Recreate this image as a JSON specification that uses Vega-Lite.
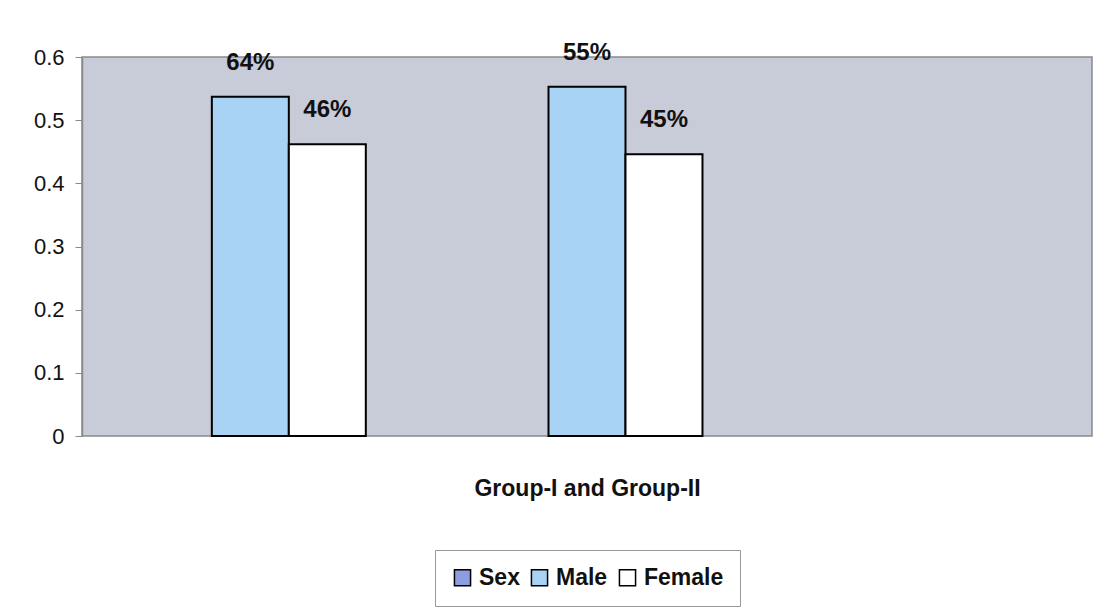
{
  "$schema": "https://vega.github.io/schema/vega-lite/v6.json",
  "width": 1109,
  "height": 616,
  "autosize": {"type": "fit", "contains": "padding"},
  "padding": {"left": 33, "right": 17, "top": 46, "bottom": 9},
  "background": "white",
  "view": {"fill": "#c8cbd8", "stroke": "#8a8a8a", "strokeWidth": 1.5},
  "config": {"legend": {"layout": {"bottom": {"anchor": "middle"}}}},
  "data": {
    "values": [
      {"group": "Group-I", "sex": "Male", "value": 0.537, "label": "64%"},
      {"group": "Group-I", "sex": "Female", "value": 0.462, "label": "46%"},
      {"group": "Group-II", "sex": "Male", "value": 0.553, "label": "55%"},
      {"group": "Group-II", "sex": "Female", "value": 0.446, "label": "45%"}
    ]
  },
  "encoding": {
    "x": {
      "field": "group",
      "type": "nominal",
      "scale": {"domain": ["Group-I", "Group-II", "Group-III"], "paddingInner": 0.314, "paddingOuter": 0.157},
      "axis": {
        "labels": false,
        "ticks": false,
        "domain": false,
        "title": "Group-I and Group-II",
        "titleFont": "Liberation Sans",
        "titleFontSize": 23,
        "titleFontWeight": "bold",
        "titleColor": "#111",
        "titlePadding": 41
      }
    },
    "xOffset": {
      "field": "sex",
      "type": "nominal",
      "scale": {"domain": ["Sex", "Male", "Female"], "paddingInner": 0, "paddingOuter": 0}
    },
    "y": {
      "field": "value",
      "type": "quantitative",
      "scale": {"domain": [0, 0.6], "nice": false, "zero": true},
      "axis": {
        "values": [0, 0.1, 0.2, 0.3, 0.4, 0.5, 0.6],
        "format": "~g",
        "title": null,
        "grid": false,
        "domain": true,
        "domainColor": "#8a8a8a",
        "domainWidth": 1.5,
        "ticks": true,
        "tickSize": 7,
        "tickColor": "#8a8a8a",
        "labelPadding": 11,
        "labelFont": "Liberation Sans",
        "labelFontSize": 22,
        "labelColor": "#111"
      }
    }
  },
  "layer": [
    {
      "mark": {"type": "bar", "stroke": "black", "strokeWidth": 2},
      "encoding": {
        "color": {
          "field": "sex",
          "type": "nominal",
          "scale": {"domain": ["Sex", "Male", "Female"], "range": ["#8d9de0", "#a9d3f5", "#ffffff"]},
          "legend": {
            "title": null,
            "orient": "bottom",
            "direction": "horizontal",
            "offset": 50,
            "symbolType": "square",
            "symbolSize": 260,
            "symbolStrokeColor": "black",
            "symbolStrokeWidth": 1.5,
            "symbolOpacity": 1,
            "labelFont": "Liberation Sans",
            "labelFontSize": 23,
            "labelFontWeight": "bold",
            "labelColor": "#111",
            "labelOffset": 5,
            "columnPadding": 8,
            "padding": 16,
            "strokeColor": "#999",
            "fillColor": "white"
          }
        }
      }
    },
    {
      "mark": {
        "type": "text",
        "baseline": "alphabetic",
        "align": "center",
        "dy": -27,
        "font": "Liberation Sans",
        "fontSize": 24,
        "fontWeight": "bold",
        "color": "#111"
      },
      "encoding": {
        "text": {"field": "label", "type": "nominal"}
      }
    }
  ]
}
